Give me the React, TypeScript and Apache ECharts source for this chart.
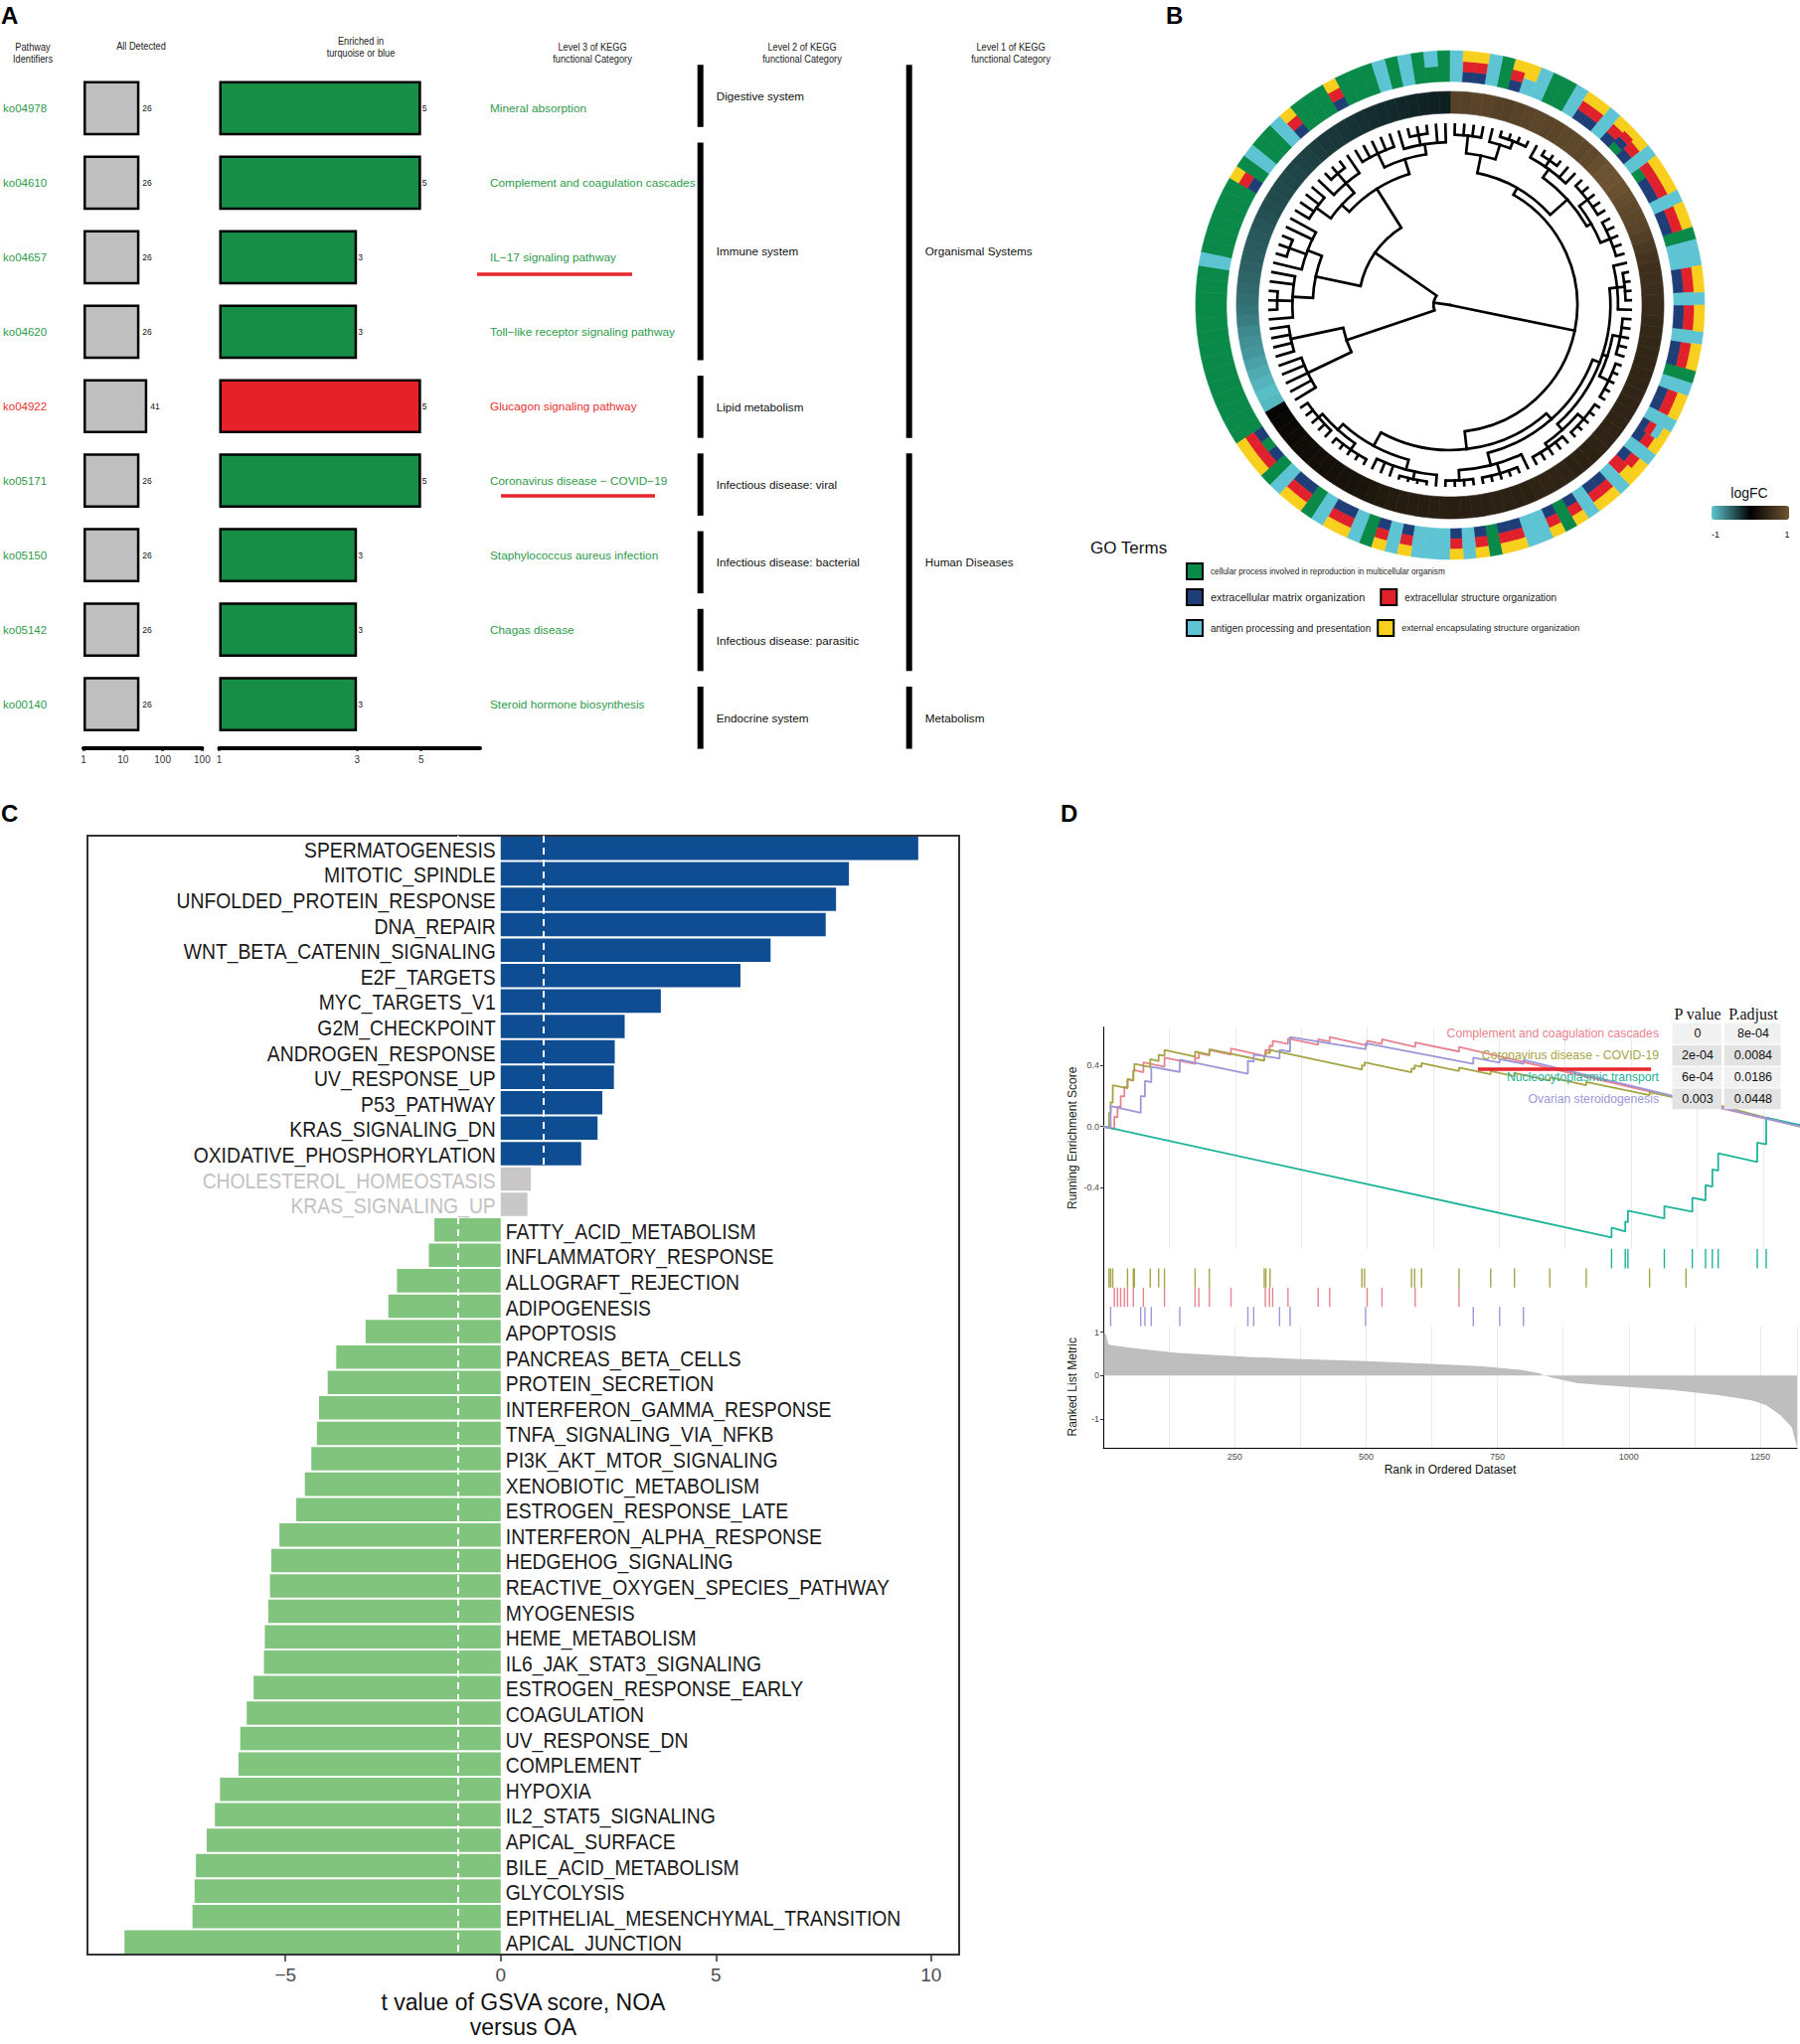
import React, { useEffect, useRef } from "react";
import * as echarts from "echarts";

const PAGE_W = 1811;
const PAGE_H = 2057;
const F_SANS = "'Liberation Sans', Arial, Helvetica, sans-serif";
const F_SERIF = "'Liberation Serif', 'Times New Roman', serif";

// ---------------- Panel A data ----------------
const pathwayIds = ["ko04978", "ko04610", "ko04657", "ko04620", "ko04922", "ko05171", "ko05150", "ko05142", "ko00140"];
const level3Names = [
  "Mineral absorption",
  "Complement and coagulation cascades",
  "IL\u221217 signaling pathway",
  "Toll\u2212like receptor signaling pathway",
  "Glucagon signaling pathway",
  "Coronavirus disease \u2212 COVID\u221219",
  "Staphylococcus aureus infection",
  "Chagas disease",
  "Steroid hormone biosynthesis",
];
const allDetected = [26, 26, 26, 26, 41, 26, 26, 26, 26];
const enrichedCount = [5, 5, 3, 3, 5, 5, 3, 3, 3];
const pathwayGroup = ["turquoise", "turquoise", "turquoise", "turquoise", "blue", "turquoise", "turquoise", "turquoise", "turquoise"];
const level2Groups: any[] = [
  ["Digestive system", 0, 0],
  ["Immune system", 1, 3],
  ["Lipid metabolism", 4, 4],
  ["Infectious disease: viral", 5, 5],
  ["Infectious disease: bacterial", 6, 6],
  ["Infectious disease: parasitic", 7, 7],
  ["Endocrine system", 8, 8],
];
const level1Groups: any[] = [
  ["Organismal Systems", 0, 4],
  ["Human Diseases", 5, 7],
  ["Metabolism", 8, 8],
];
const detectedTicks = [1, 10, 100, 1000];
const detectedTickLabels = ["1", "10", "100", "100"];
const enrichedTicks = [1, 3, 5];

// ---------------- Panel B data ----------------
const goTermNames = [
  "cellular process involved in reproduction in multicellular organism",
  "extracellular matrix organization",
  "extracellular structure organization",
  "antigen processing and presentation",
  "external encapsulating structure organization",
];
const goTermCodes = ["G", "B", "R", "C", "Y"];
const goTermColors = ["#0A8A48", "#1F3E78", "#E0202B", "#5EC4D3", "#F9CF1E"];
const geneTerms = [
  "C", "BRY", "BRY", "C", "G", "BRY", "CY", "C", "G", "G",
  "C", "BRY", "BRY", "C", "BRY", "GBRY", "BRY", "C", "GRY", "BRY",
  "BRY", "C", "BRY", "BRY", "G", "C", "C", "BRY", "BRY", "C",
  "BRY", "BRY", "C", "BRY", "BRY", "G", "C", "BRY", "BRY", "C",
  "BRCY", "BRY", "C", "BRY", "RY", "C", "BRY", "BRY", "C", "BRY",
  "G", "BRY", "C", "C", "BRY", "BRY", "G", "BRY", "C", "BRY",
  "C", "C", "C", "BRY", "C", "BRY", "G", "C", "BRY", "BRY",
  "C", "G", "BRY", "BRY", "C", "G", "BRY", "GRY", "BRY", "G",
  "G", "G", "G", "G", "G", "G", "G", "G", "G", "G",
  "G", "G", "G", "C", "G", "G", "G", "G", "G", "G",
  "BRY", "G", "C", "G", "G", "C", "BRY", "G", "G", "G",
  "BRY", "G", "G", "G", "C", "G", "C", "G", "GC", "G",
];
const geneLogFC = [
  0.78, 0.76, 0.8, 0.79, 0.77, 0.75, 0.78, 0.8, 0.82, 0.8,
  0.81, 0.83, 0.85, 0.84, 0.86, 0.92, 0.96, 0.98, 0.95, 0.9,
  0.86, 0.83, 0.8, 0.74, 0.66, 0.6, 0.56, 0.55, 0.54, 0.52,
  0.5, 0.48, 0.47, 0.46, 0.45, 0.44, 0.44, 0.43, 0.43, 0.42,
  0.42, 0.42, 0.41, 0.41, 0.41, 0.4, 0.4, 0.4, 0.41, 0.42,
  0.42, 0.41, 0.4, 0.4, 0.39, 0.39, 0.38, 0.38, 0.37, 0.37,
  0.37, 0.36, 0.35, 0.34, 0.33, 0.32, 0.3, 0.27, 0.23, 0.21,
  0.2, 0.19, 0.18, 0.17, 0.15, 0.14, 0.12, 0.1, 0.08, 0.06,
  -0.92, -0.95, -0.9, -0.85, -0.8, -0.75, -0.72, -0.68, -0.62, -0.58,
  -0.55, -0.52, -0.5, -0.48, -0.46, -0.45, -0.44, -0.42, -0.4, -0.38,
  -0.37, -0.36, -0.35, -0.34, -0.33, -0.32, -0.3, -0.28, -0.27, -0.26,
  -0.25, -0.24, -0.22, -0.21, -0.2, -0.19, -0.18, -0.17, -0.16, -0.16,
];
// dendrogram clusters: [first leaf, last leaf, radius of the merge (0 = centre, 1 = outer ring)]
const dendroNodes = [
  [0, 119, 0.0], [0, 78, 0.5], [0, 24, 0.53], [0, 8, 0.6], [0, 3, 0.67], [4, 8, 0.66], [5, 8, 0.69],
  [9, 24, 0.62], [9, 14, 0.66], [10, 12, 0.69], [15, 24, 0.64], [15, 19, 0.68], [20, 24, 0.68],
  [25, 78, 0.57], [25, 60, 0.6], [25, 50, 0.63], [25, 30, 0.66], [26, 29, 0.69], [31, 40, 0.65], [31, 35, 0.68], [36, 40, 0.69],
  [41, 50, 0.66], [41, 45, 0.69], [46, 50, 0.68], [51, 60, 0.65], [52, 56, 0.69], [57, 60, 0.69],
  [61, 78, 0.63], [61, 68, 0.67], [62, 65, 0.7], [69, 78, 0.66], [69, 73, 0.69], [74, 78, 0.68],
  [79, 119, 0.065], [79, 87, 0.43], [79, 83, 0.62], [84, 87, 0.64], [88, 119, 0.36], [88, 99, 0.54],
  [88, 93, 0.62], [89, 91, 0.68], [94, 99, 0.6], [95, 97, 0.67], [100, 119, 0.54], [100, 108, 0.58],
  [100, 103, 0.65], [104, 108, 0.63], [105, 107, 0.68], [109, 119, 0.6], [109, 113, 0.66], [114, 119, 0.64], [115, 117, 0.68],
];
const logFCColors = ["#5CC8D0", "#000000", "#6F5533"];

// ---------------- Panel C data ----------------
const gsvaTerms = [
  "SPERMATOGENESIS", "MITOTIC_SPINDLE", "UNFOLDED_PROTEIN_RESPONSE", "DNA_REPAIR", "WNT_BETA_CATENIN_SIGNALING",
  "E2F_TARGETS", "MYC_TARGETS_V1", "G2M_CHECKPOINT", "ANDROGEN_RESPONSE", "UV_RESPONSE_UP", "P53_PATHWAY",
  "KRAS_SIGNALING_DN", "OXIDATIVE_PHOSPHORYLATION", "CHOLESTEROL_HOMEOSTASIS", "KRAS_SIGNALING_UP",
  "FATTY_ACID_METABOLISM", "INFLAMMATORY_RESPONSE", "ALLOGRAFT_REJECTION", "ADIPOGENESIS", "APOPTOSIS",
  "PANCREAS_BETA_CELLS", "PROTEIN_SECRETION", "INTERFERON_GAMMA_RESPONSE", "TNFA_SIGNALING_VIA_NFKB",
  "PI3K_AKT_MTOR_SIGNALING", "XENOBIOTIC_METABOLISM", "ESTROGEN_RESPONSE_LATE", "INTERFERON_ALPHA_RESPONSE",
  "HEDGEHOG_SIGNALING", "REACTIVE_OXYGEN_SPECIES_PATHWAY", "MYOGENESIS", "HEME_METABOLISM", "IL6_JAK_STAT3_SIGNALING",
  "ESTROGEN_RESPONSE_EARLY", "COAGULATION", "UV_RESPONSE_DN", "COMPLEMENT", "HYPOXIA", "IL2_STAT5_SIGNALING",
  "APICAL_SURFACE", "BILE_ACID_METABOLISM", "GLYCOLYSIS", "EPITHELIAL_MESENCHYMAL_TRANSITION", "APICAL_JUNCTION",
];
const gsvaT = [
  9.7, 8.09, 7.79, 7.55, 6.27, 5.57, 3.72, 2.88, 2.65, 2.63, 2.36, 2.25, 1.87, 0.7, 0.62,
  -1.54, -1.67, -2.41, -2.61, -3.14, -3.82, -4.02, -4.22, -4.27, -4.4, -4.55, -4.75, -5.14, -5.33, -5.36,
  -5.4, -5.48, -5.5, -5.74, -5.9, -6.05, -6.09, -6.52, -6.64, -6.83, -7.08, -7.11, -7.16, -8.74,
];
const gsvaTicks = [-5, 0, 5, 10];
const gsvaThreshold = 1;

// ---------------- Panel D data ----------------
const gseaSets = ["Complement and coagulation cascades", "Coronavirus disease - COVID-19", "Nucleocytoplasmic transport", "Ovarian steroidogenesis"];
const gseaColors = ["#E8838F", "#A6A545", "#1DB49B", "#9C97D9"];
const gseaPvalue = ["0", "2e-04", "6e-04", "0.003"];
const gseaPadjust = ["8e-04", "0.0084", "0.0186", "0.0448"];
const esComplement = [[0, 0], [21, -0.015], [21, 0.065], [27, 0.06], [27, 0.13], [33, 0.125], [33, 0.2], [40, 0.195], [40, 0.26], [46, 0.255], [46, 0.31], [57, 0.3], [57, 0.37], [76, 0.355], [76, 0.42], [116, 0.39], [116, 0.45], [174, 0.41], [174, 0.45], [181, 0.445], [181, 0.48], [201, 0.465], [201, 0.5], [242, 0.47], [242, 0.51], [307, 0.46], [307, 0.5], [315, 0.495], [315, 0.53], [321, 0.525], [321, 0.56], [350, 0.54], [350, 0.575], [407, 0.535], [407, 0.57], [429, 0.555], [429, 0.585], [500, 0.53], [500, 0.56], [528, 0.54], [528, 0.57], [591, 0.52], [591, 0.55], [674, 0.49], [674, 0.52], [1320, 0]];
const esCovid = [[0, 0], [11, -0.008], [11, 0.09], [14, 0.088], [14, 0.16], [18, 0.157], [18, 0.27], [46, 0.25], [46, 0.31], [57, 0.302], [57, 0.36], [59, 0.358], [59, 0.41], [89, 0.388], [89, 0.44], [105, 0.428], [105, 0.47], [116, 0.462], [116, 0.5], [174, 0.456], [174, 0.49], [201, 0.47], [201, 0.505], [305, 0.43], [305, 0.46], [308, 0.458], [308, 0.485], [316, 0.48], [316, 0.5], [490, 0.372], [490, 0.4], [495, 0.396], [495, 0.42], [584, 0.355], [584, 0.38], [590, 0.376], [590, 0.4], [603, 0.39], [603, 0.415], [674, 0.363], [674, 0.385], [734, 0.341], [734, 0.362], [779, 0.329], [779, 0.35], [846, 0.3], [846, 0.322], [915, 0.27], [915, 0.292], [1035, 0.205], [1035, 0.225], [1104, 0.175], [1104, 0.195], [1320, 0]];
const esNucleo = [[0, 0], [963, -0.724], [963, -0.66], [989, -0.685], [989, -0.62], [994, -0.624], [994, -0.55], [1063, -0.6], [1063, -0.52], [1116, -0.556], [1116, -0.465], [1141, -0.482], [1141, -0.383], [1154, -0.392], [1154, -0.28], [1165, -0.288], [1165, -0.175], [1239, -0.232], [1239, -0.104], [1256, -0.116], [1256, 0.058], [1320, 0.01]];
const esOvarian = [[0, 0], [14, -0.01], [14, 0.134], [71, 0.09], [71, 0.2], [79, 0.195], [79, 0.3], [91, 0.29], [91, 0.39], [145, 0.357], [145, 0.437], [274, 0.345], [274, 0.43], [285, 0.424], [285, 0.47], [334, 0.445], [334, 0.5], [354, 0.49], [354, 0.585], [497, 0.505], [497, 0.545], [701, 0.41], [701, 0.45], [751, 0.418], [751, 0.44], [796, 0.41], [796, 0.435], [1320, 0]];
const hitsComplement = [21, 27, 33, 40, 46, 57, 76, 116, 174, 181, 201, 242, 307, 315, 321, 350, 407, 429, 500, 528, 591, 674];
const hitsCovid = [11, 14, 18, 46, 57, 59, 89, 105, 116, 174, 201, 305, 308, 316, 490, 495, 584, 590, 603, 674, 734, 779, 846, 915, 1035, 1104];
const hitsNucleo = [963, 989, 994, 1063, 1116, 1141, 1154, 1165, 1239, 1256];
const hitsOvarian = [14, 71, 79, 91, 145, 274, 285, 334, 354, 497, 701, 751, 796];
const rugOrder = [2, 1, 0, 3];
const rankMetric = [[1, 1.0], [5, 0.95], [10, 0.71], [50, 0.64], [140, 0.52], [274, 0.43], [364, 0.38], [499, 0.33], [633, 0.26], [722, 0.21], [794, 0.13], [830, 0.05], [839, 0], [857, -0.06], [902, -0.18], [991, -0.26], [1081, -0.33], [1171, -0.45], [1234, -0.57], [1261, -0.68], [1288, -0.91], [1310, -1.19], [1320, -1.65]];
const rankTicks = [250, 500, 750, 1000, 1250];

// ---------------- helpers ----------------
function txt(text: string, x: number, y: number, o: any = {}) {
  const align = o.align || "left";
  const va = o.va || "middle";
  const el: any = {
    type: "text",
    z: o.z || 101,
    x,
    y,
    silent: true,
    style: {
      text,
      fill: o.fill || "#222",
      fontSize: o.size || 11,
      fontFamily: o.family || F_SANS,
      fontWeight: o.weight || "normal",
      align,
      textAlign: align,
      verticalAlign: va,
      textVerticalAlign: va,
      lineHeight: o.lh,
    },
  };
  if (o.sx) el.scaleX = o.sx;
  return el;
}

function sectorEl(params: any, api: any, idx: number, rIn: number, rOut: number, color: string) {
  const cs = params.coordSys;
  const pa = api.coord([1, idx]);
  const pb = api.coord([1, idx + 1]);
  const s = Math.atan2(pa[1] - cs.cy, pa[0] - cs.cx);
  let e = Math.atan2(pb[1] - cs.cy, pb[0] - cs.cx);
  if (e < s) e += Math.PI * 2;
  const R = Math.hypot(pa[0] - cs.cx, pa[1] - cs.cy);
  return {
    type: "sector",
    shape: { cx: cs.cx, cy: cs.cy, r0: R * rIn, r: R * rOut, startAngle: s, endAngle: e, clockwise: true },
    style: { fill: color, stroke: color, lineWidth: 0.6 },
  };
}

function dendroSegments(nodes: number[][], leafR: number) {
  const contains = (a: number[], b: number[]) => a[0] <= b[0] && b[1] <= a[1] && !(a[0] === b[0] && a[1] === b[1]);
  const segs: number[][] = [];
  const sorted = nodes.slice().sort((a, b) => b[1] - b[0] - (a[1] - a[0]));
  const proc = (node: number[]): number => {
    const inner = nodes.filter((m) => contains(node, m));
    const maximal = inner.filter((m) => !inner.some((o) => contains(o, m)));
    const kids: { a: number; r: number }[] = [];
    let i = node[0];
    while (i <= node[1]) {
      const m = maximal.find((q) => q[0] === i);
      if (m) {
        kids.push({ a: proc(m), r: m[2] });
        i = m[1] + 1;
      } else {
        kids.push({ a: i + 0.5, r: leafR });
        i++;
      }
    }
    kids.forEach((k) => segs.push([0, k.a, k.a, k.r, node[2]]));
    const a0 = kids[0].a;
    const a1 = kids[kids.length - 1].a;
    if (node[2] > 0.001) segs.push([1, a0, a1, node[2], node[2]]);
    return (a0 + a1) / 2;
  };
  proc(sorted[0]);
  return segs;
}

const fmtMinus = (v: number) => (v < 0 ? "\u2212" + Math.abs(v) : String(v));

function buildOption(): any {
  const GREEN_A = "#178E46";
  const RED_A = "#E62129";
  const TXT_GREEN = "#2E9B4B";
  const TXT_RED = "#E8302F";
  const gTop = 71.4;
  const gH = 674.7;
  const nGenes = geneTerms.length;
  const RING_IN = 0.879;

  const grids = [
    { left: 80, top: gTop, width: 123.4, height: gH },
    { left: 220.5, top: gTop, width: 262.5, height: gH },
    { left: 704.7, top: 57.4, width: 210, height: 704 },
    { left: 88, top: 841, width: 877, height: 1136, show: true, borderColor: "#333", borderWidth: 2, backgroundColor: "transparent" },
    { left: 1110, top: 1033.6, width: 701, height: 223.4 },
    { left: 1110, top: 1257, width: 701, height: 77.6 },
    { left: 1110, top: 1334.6, width: 701, height: 122.2 },
  ];

  const hidden = { axisLine: { show: false }, axisTick: { show: false }, axisLabel: { show: false }, splitLine: { show: false } };

  const xAxes = [
    {
      gridIndex: 0, type: "log", logBase: 10, min: 1, max: 1000, position: "bottom", offset: 6.5,
      axisLine: { show: true, onZero: false, lineStyle: { color: "#000", width: 4 } },
      axisTick: { show: true, customValues: detectedTicks, length: 3, lineStyle: { color: "#000", width: 3 } },
      axisLabel: { customValues: detectedTicks, formatter: (v: number) => detectedTickLabels[Math.round(Math.log10(v))], fontSize: 10, color: "#333", margin: 7, fontFamily: F_SANS },
      splitLine: { show: false },
    },
    {
      gridIndex: 1, type: "log", logBase: 10, min: 1, max: 8, position: "bottom", offset: 6.5,
      axisLine: { show: true, onZero: false, lineStyle: { color: "#000", width: 4 } },
      axisTick: { show: true, customValues: enrichedTicks, length: 3, lineStyle: { color: "#000", width: 3 } },
      axisLabel: { customValues: enrichedTicks, formatter: (v: number) => String(Math.round(v)), fontSize: 10, color: "#333", margin: 7, fontFamily: F_SANS },
      splitLine: { show: false },
    },
    { gridIndex: 2, type: "value", min: 0, max: 1, ...hidden },
    {
      gridIndex: 3, type: "value", min: -9.6, max: 10.65,
      axisLine: { show: false, onZero: false }, splitLine: { show: false },
      axisTick: { show: true, customValues: gsvaTicks, length: 7, lineStyle: { color: "#333", width: 1.5 } },
      axisLabel: { customValues: gsvaTicks, formatter: fmtMinus, fontSize: 19, color: "#4D4D4D", margin: 11, fontFamily: F_SANS },
      name: "t value of GSVA score, NOA\nversus OA", nameLocation: "middle", nameGap: 34,
      nameTextStyle: { fontSize: 23, color: "#111", fontFamily: F_SANS, lineHeight: 25 },
    },
    {
      gridIndex: 4, type: "value", min: 0, max: 1320, interval: 125,
      axisLine: { show: false, onZero: false }, axisTick: { show: false }, axisLabel: { show: false },
      splitLine: { show: true, lineStyle: { color: "#EBEBEB", width: 1 } },
    },
    { gridIndex: 5, type: "value", min: 0, max: 1320, ...hidden },
    {
      gridIndex: 6, type: "value", min: 0, max: 1320, interval: 125,
      axisLine: { show: true, onZero: false, lineStyle: { color: "#000", width: 1 } },
      axisTick: { show: false },
      axisLabel: { formatter: (v: number) => (rankTicks.indexOf(v) >= 0 ? String(v) : ""), fontSize: 9, color: "#4D4D4D", margin: 5, fontFamily: F_SANS },
      splitLine: { show: true, lineStyle: { color: "#EBEBEB", width: 1 } },
      name: "Rank in Ordered Dataset", nameLocation: "middle", nameGap: 16,
      nameTextStyle: { fontSize: 12, color: "#111", fontFamily: F_SANS },
    },
  ];

  const yAxes = [
    {
      gridIndex: 0, type: "category", data: pathwayIds, inverse: true,
      axisLine: { show: false }, axisTick: { show: false }, splitLine: { show: false },
      axisLabel: {
        margin: 81, align: "left", fontSize: 11.5, fontFamily: F_SANS,
        color: (v: any, i: number) => (pathwayGroup[i] === "blue" ? TXT_RED : TXT_GREEN),
      },
    },
    {
      gridIndex: 1, type: "category", data: level3Names, inverse: true, position: "right",
      axisLine: { show: false }, axisTick: { show: false }, splitLine: { show: false },
      axisLabel: {
        margin: 10, align: "left", fontSize: 11.8, fontFamily: F_SANS,
        color: (v: any, i: number) => (pathwayGroup[i] === "blue" ? TXT_RED : TXT_GREEN),
      },
    },
    { gridIndex: 2, type: "category", data: pathwayIds, inverse: true, ...hidden },
    { gridIndex: 3, type: "category", data: gsvaTerms, inverse: true, ...hidden },
    {
      gridIndex: 4, type: "value", min: -0.8, max: 0.65,
      axisLine: { show: true, onZero: false, lineStyle: { color: "#000", width: 1 } },
      axisTick: { show: true, customValues: [-0.4, 0, 0.4], length: 3, lineStyle: { color: "#333" } },
      axisLabel: { customValues: [-0.4, 0, 0.4], formatter: (v: number) => v.toFixed(1), fontSize: 9, color: "#4D4D4D", margin: 4, fontFamily: F_SANS },
      splitLine: { show: false },
      name: "Running Enrichment Score", nameLocation: "middle", nameGap: 25, nameRotate: 90,
      nameTextStyle: { fontSize: 12, color: "#222", fontFamily: F_SANS },
    },
    {
      gridIndex: 5, type: "value", min: 0, max: 4, inverse: true,
      axisLine: { show: true, onZero: false, lineStyle: { color: "#000", width: 1 } },
      axisTick: { show: false }, axisLabel: { show: false }, splitLine: { show: false },
    },
    {
      gridIndex: 6, type: "value", min: -1.66, max: 1.135,
      axisLine: { show: true, onZero: false, lineStyle: { color: "#000", width: 1 } },
      axisTick: { show: true, customValues: [-1, 0, 1], length: 3, lineStyle: { color: "#333" } },
      axisLabel: { customValues: [-1, 0, 1], formatter: (v: number) => String(v), fontSize: 9, color: "#4D4D4D", margin: 4, fontFamily: F_SANS },
      splitLine: { show: false },
      name: "Ranked List Metric", nameLocation: "middle", nameGap: 25, nameRotate: 90,
      nameTextStyle: { fontSize: 12, color: "#222", fontFamily: F_SANS },
    },
  ];

  const levelData = [
    ...level2Groups.map((g, i) => [0, g[1], g[2], i]),
    ...level1Groups.map((g, i) => [1, g[1], g[2], i]),
  ];

  const dendroData = dendroSegments(dendroNodes, 0.71);

  const series: any[] = [];
  // 0: All detected
  series.push({
    type: "bar", xAxisIndex: 0, yAxisIndex: 0, data: allDetected, barWidth: "73%", silent: true,
    itemStyle: { color: "#C0BFC0", borderColor: "#000", borderWidth: 2.5 },
    label: { show: true, position: "right", distance: 3, fontSize: 8.5, color: "#111", fontFamily: F_SANS },
  });
  // 1: enriched
  series.push({
    type: "bar", xAxisIndex: 1, yAxisIndex: 1, barWidth: "73%", silent: true,
    data: enrichedCount.map((v, i) => ({ value: v, itemStyle: { color: pathwayGroup[i] === "blue" ? RED_A : GREEN_A } })),
    itemStyle: { borderColor: "#000", borderWidth: 2.5 },
    label: { show: true, position: "right", distance: 1, fontSize: 8.5, color: "#111", fontFamily: F_SANS },
  });
  // 2: KEGG levels
  series.push({
    type: "custom", xAxisIndex: 2, yAxisIndex: 2, data: levelData, silent: true,
    renderItem: (params: any, api: any) => {
      const lvl = api.value(0);
      const s = api.value(1);
      const e = api.value(2);
      const gi = api.value(3);
      const pS = api.coord([lvl, s]);
      const pE = api.coord([lvl, e]);
      const band = api.size([0, 1])[1];
      const y0 = pS[1] - band * 0.4;
      const y1 = pE[1] + band * 0.4;
      const name = lvl === 0 ? level2Groups[gi][0] : level1Groups[gi][0];
      return {
        type: "group",
        children: [
          { type: "rect", shape: { x: pS[0] - 3, y: y0, width: 6, height: y1 - y0 }, style: { fill: "#000" } },
          {
            type: "text",
            style: { text: name, x: pS[0] + 16, y: (y0 + y1) / 2, fill: "#111", fontSize: 11.7, fontFamily: F_SANS, align: "left", verticalAlign: "middle", textAlign: "left", textVerticalAlign: "middle" },
          },
        ],
      };
    },
  });
  // 3: GSVA bars
  const gsvaColor = (v: number) => (v > gsvaThreshold ? "#0E4D92" : v < -gsvaThreshold ? "#80C47E" : "#C9C7C8");
  series.push({
    type: "bar", xAxisIndex: 3, yAxisIndex: 3, z: 2, barWidth: "92%", silent: true,
    data: gsvaT.map((v) => ({ value: v, itemStyle: { color: gsvaColor(v) } })),
    markLine: {
      z: 2.5, silent: true, symbol: ["none", "none"], label: { show: false }, animation: false,
      lineStyle: { color: "#FFFFFF", width: 2, type: [7, 5] },
      data: [{ xAxis: gsvaThreshold }, { xAxis: -gsvaThreshold }],
    },
  });
  // 4: GSVA term labels (condensed text anchored at t = 0)
  series.push({
    type: "custom", xAxisIndex: 3, yAxisIndex: 3, z: 3, silent: true,
    data: gsvaT.map((v, i) => [v, i]),
    renderItem: (params: any, api: any) => {
      const v = api.value(0);
      const i = api.value(1);
      const p = api.coord([0, i]);
      const pos = v > 0;
      const al = pos ? "right" : "left";
      return {
        type: "text",
        x: p[0] + (pos ? -5 : 5),
        y: p[1] + 1,
        scaleX: 0.86,
        style: {
          text: gsvaTerms[i], fontSize: 22.5, fontFamily: F_SANS,
          fill: Math.abs(v) <= gsvaThreshold ? "#C2C2C2" : "#1A1A1A",
          align: al, textAlign: al, verticalAlign: "middle", textVerticalAlign: "middle",
        },
      };
    },
  });
  // 5: logFC ring
  series.push({
    type: "custom", coordinateSystem: "polar", polarIndex: 0, silent: true,
    data: geneLogFC.map((v, i) => [0.8, i, v]),
    renderItem: (params: any, api: any) => sectorEl(params, api, api.value(1), 0.754, 0.84, api.visual("color")),
  });
  // 6-10: GO term ring
  goTermCodes.forEach((code, t) => {
    series.push({
      type: "custom", name: goTermNames[t], coordinateSystem: "polar", polarIndex: 0, silent: true,
      itemStyle: { color: goTermColors[t] },
      data: geneTerms.flatMap((s, i) => (s.indexOf(code) >= 0 ? [[0.95, i, s.indexOf(code), s.length]] : [])),
      renderItem: (params: any, api: any) => {
        const k = api.value(2);
        const m = api.value(3);
        const r0 = RING_IN + ((1 - RING_IN) * k) / m;
        const r1 = RING_IN + ((1 - RING_IN) * (k + 1)) / m;
        return sectorEl(params, api, api.value(1), r0, r1, goTermColors[t]);
      },
    });
  });
  // 11: dendrogram
  series.push({
    type: "custom", coordinateSystem: "polar", polarIndex: 0, silent: true, data: dendroData,
    renderItem: (params: any, api: any) => {
      const cs = params.coordSys;
      const kind = api.value(0);
      if (kind === 0) {
        const p0 = api.coord([api.value(3), api.value(1)]);
        const p1 = api.coord([api.value(4), api.value(1)]);
        return { type: "line", shape: { x1: p0[0], y1: p0[1], x2: p1[0], y2: p1[1] }, style: { stroke: "#000", lineWidth: 2.7, lineCap: "square" } };
      }
      const pa = api.coord([api.value(3), api.value(1)]);
      const pb = api.coord([api.value(3), api.value(2)]);
      const rr = Math.hypot(pa[0] - cs.cx, pa[1] - cs.cy);
      const s = Math.atan2(pa[1] - cs.cy, pa[0] - cs.cx);
      let e = Math.atan2(pb[1] - cs.cy, pb[0] - cs.cx);
      if (e < s) e += Math.PI * 2;
      return { type: "arc", shape: { cx: cs.cx, cy: cs.cy, r: rr, startAngle: s, endAngle: e, clockwise: true }, style: { stroke: "#000", lineWidth: 2.7, fill: "none" } };
    },
  });
  // 12-15: running ES
  [esComplement, esCovid, esNucleo, esOvarian].forEach((d, k) => {
    series.push({
      type: "line", name: gseaSets[k], xAxisIndex: 4, yAxisIndex: 4, data: d, symbol: "none", showSymbol: false, silent: true,
      lineStyle: { color: gseaColors[k], width: 1.8 }, itemStyle: { color: gseaColors[k] },
    });
  });
  // 16: rug
  const hitSets = [hitsComplement, hitsCovid, hitsNucleo, hitsOvarian];
  series.push({
    type: "custom", xAxisIndex: 5, yAxisIndex: 5, silent: true,
    data: rugOrder.flatMap((setIdx, row) => hitSets[setIdx].map((h) => [h, row])),
    renderItem: (params: any, api: any) => {
      const row = api.value(1);
      const p0 = api.coord([api.value(0), row]);
      const p1 = api.coord([api.value(0), row + 1]);
      return { type: "line", shape: { x1: p0[0], y1: p0[1], x2: p1[0], y2: p1[1] }, style: { stroke: gseaColors[rugOrder[row]], lineWidth: 1.4 } };
    },
  });
  // 17: ranked list metric
  series.push({
    type: "line", xAxisIndex: 6, yAxisIndex: 6, data: rankMetric, symbol: "none", showSymbol: false, silent: true,
    lineStyle: { width: 0, color: "#BEBEBE" }, areaStyle: { color: "#BEBEBE", opacity: 1 },
  });

  // ---------- graphic ----------
  const g: any[] = [];
  g.push(txt("A", 1, 15, { size: 24, weight: "bold", fill: "#000" }));
  g.push(txt("B", 1173, 15, { size: 24, weight: "bold", fill: "#000" }));
  g.push(txt("C", 1, 818, { size: 24, weight: "bold", fill: "#000" }));
  g.push(txt("D", 1067, 818, { size: 24, weight: "bold", fill: "#000" }));
  const hdr = { size: 11, align: "center", lh: 12, fill: "#222", sx: 0.84 };
  g.push(txt("Pathway\nIdentifiers", 33, 53, hdr));
  g.push(txt("All Detected", 142, 46, hdr));
  g.push(txt("Enriched in\nturquoise or blue", 363, 47, hdr));
  g.push(txt("Level 3 of KEGG\nfunctional Category", 596, 53, hdr));
  g.push(txt("Level 2 of KEGG\nfunctional Category", 807, 53, hdr));
  g.push(txt("Level 1 of KEGG\nfunctional Category", 1017, 53, hdr));
  const redLine = (x1: number, x2: number, y: number) => ({ type: "line", z: 102, silent: true, shape: { x1, y1: y, x2, y2: y }, style: { stroke: "#E8262E", lineWidth: 3.5 } });
  g.push(redLine(480, 636, 276));
  g.push(redLine(504, 659, 499));
  g.push(redLine(1487, 1661, 1076));
  g.push(txt("GO Terms", 1097, 551, { size: 17, fill: "#111" }));
  g.push(txt("logFC", 1760, 496, { size: 14, align: "center", fill: "#111" }));
  g.push(txt("-1", 1726, 538, { size: 9, align: "center", fill: "#111" }));
  g.push(txt("1", 1798, 538, { size: 9, align: "center", fill: "#111" }));
  // p-value table
  const colX = [1682.5, 1734.7];
  const colW = [51, 58.5];
  const rowY0 = 1029.3;
  const rowH = 21.9;
  g.push(txt("P value", colX[0] + colW[0] / 2, 1020, { size: 16, family: F_SERIF, align: "center", fill: "#111" }));
  g.push(txt("P.adjust", colX[1] + colW[1] / 2, 1020, { size: 16, family: F_SERIF, align: "center", fill: "#111" }));
  gseaSets.forEach((name, i) => {
    const y = rowY0 + i * rowH;
    const bg = i % 2 === 0 ? "#F1F1F1" : "#E3E3E3";
    colX.forEach((x, c) => g.push({ type: "rect", z: 100, silent: true, shape: { x, y: y + 0.6, width: colW[c] - 1.6, height: rowH - 1.2 }, style: { fill: bg } }));
    g.push(txt(gseaPvalue[i], colX[0] + colW[0] / 2, y + rowH / 2, { size: 12.5, align: "center", fill: "#111" }));
    g.push(txt(gseaPadjust[i], colX[1] + colW[1] / 2, y + rowH / 2, { size: 12.5, align: "center", fill: "#111" }));
    g.push(txt(name, 1669, y + rowH / 2, { size: 12.2, align: "right", fill: gseaColors[i] }));
  });

  const legendBase = {
    orient: "horizontal", icon: "rect", itemWidth: 16, itemHeight: 16, itemGap: 6, padding: 0, selectedMode: false,
    itemStyle: { borderColor: "#000", borderWidth: 2 },
    textStyle: { fontSize: 10, color: "#222", fontFamily: F_SANS, padding: [0, 0, 0, 3] },
  };

  return {
    animation: false,
    backgroundColor: "#FFFFFF",
    textStyle: { fontFamily: F_SANS },
    grid: grids,
    xAxis: xAxes,
    yAxis: yAxes,
    polar: { center: [1459, 307], radius: [0, 256] },
    angleAxis: { type: "value", min: 0, max: nGenes, startAngle: 90, clockwise: true, show: false, polarIndex: 0 },
    radiusAxis: { type: "value", min: 0, max: 1, show: false, polarIndex: 0 },
    visualMap: {
      type: "continuous", min: -1, max: 1, seriesIndex: 5, dimension: 2, calculable: false, realtime: false,
      inRange: { color: logFCColors }, orient: "horizontal", left: 1722, top: 509, itemWidth: 14, itemHeight: 78,
      padding: 0, text: null, showLabel: false,
    },
    legend: [
      { ...legendBase, data: [{ name: goTermNames[0], textStyle: { fontSize: 8.2 } }], left: 1193, top: 566 },
      { ...legendBase, itemGap: 15, data: [{ name: goTermNames[1], textStyle: { fontSize: 11 } }, { name: goTermNames[2], textStyle: { fontSize: 10 } }], left: 1193, top: 592 },
      { ...legendBase, data: [{ name: goTermNames[3], textStyle: { fontSize: 10 } }, { name: goTermNames[4], textStyle: { fontSize: 9 } }], left: 1193, top: 623 },
    ],
    graphic: { elements: g },
    series,
  };
}

export default function App() {
  const ref = useRef<HTMLDivElement>(null);
  useEffect(() => {
    if (!ref.current) return;
    const chart = echarts.init(ref.current, null, { renderer: "svg", width: PAGE_W, height: PAGE_H });
    chart.setOption(buildOption());
    return () => chart.dispose();
  }, []);
  return <div ref={ref} style={{ position: "absolute", left: 0, top: 0, width: PAGE_W, height: PAGE_H, background: "#fff" }} />;
}
